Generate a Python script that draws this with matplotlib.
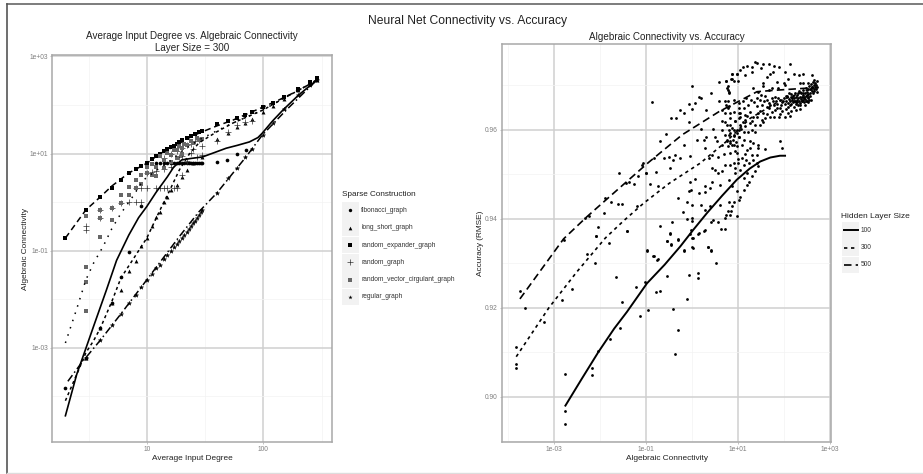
import numpy as np
import matplotlib
matplotlib.use('Agg')
import matplotlib.pyplot as plt
from matplotlib.patches import Rectangle

plt.rcParams['font.family'] = ['Liberation Sans', 'DejaVu Sans']

# left panel: smoothed curves, degree and log10(connectivity)
solid_deg = [2, 2.5, 3, 3.5, 4.5, 5.5, 7, 8.5, 10, 12, 15, 17, 20, 24, 30, 38, 48, 60, 76, 90, 98, 120, 148, 200, 290]
solid_conn = [-4.4, -3.55, -3.01, -2.55, -1.81, -1.2, -0.68, -0.32, -0.09, 0.2, 0.52, 0.72, 0.87, 0.9, 0.93, 1.02, 1.11, 1.17, 1.24, 1.33, 1.42, 1.67, 1.9, 2.2, 2.52]
expander_deg = [2, 2.5, 3, 4, 5, 7, 10, 13, 17, 22, 28, 40, 55, 75, 100, 135, 178, 230, 290]
expander_conn = [-0.74, -0.42, -0.16, 0.11, 0.33, 0.6, 0.8, 1.0, 1.14, 1.3, 1.42, 1.57, 1.69, 1.83, 1.96, 2.1, 2.24, 2.38, 2.52]
circulant_deg = [2, 2.5, 3, 3.5, 4.2, 5, 6, 7.5, 9.3, 12, 15, 20, 28, 40, 55, 75, 100, 150, 200, 290]
circulant_conn = [-2.9, -2.2, -1.6, -1.25, -0.92, -0.55, -0.23, 0.1, 0.45, 0.65, 0.8, 1.05, 1.28, 1.47, 1.63, 1.77, 1.9, 2.14, 2.3, 2.52]
longshort_deg = [2, 2.5, 3, 3.5, 4, 5, 6, 8, 10, 13, 16, 19, 23, 28, 40, 55, 75, 100, 150, 200, 290]
longshort_conn = [-4.09, -3.55, -3.1, -2.85, -2.59, -2.05, -1.56, -1.1, -0.74, -0.16, 0.28, 0.66, 0.98, 1.22, 1.45, 1.63, 1.77, 1.9, 2.14, 2.3, 2.52]
regular_deg = [2.1, 2.75, 4, 6, 10, 19, 28, 40, 71, 98, 158, 290]
regular_conn = [-3.69, -3.31, -2.84, -2.3, -1.6, -0.71, -0.2, 0.19, 0.93, 1.38, 1.9, 2.52]

# left panel: markers
fib_deg = [2, 3, 4, 5, 6, 7, 9, 12, 13, 14, 15, 16, 17, 18, 19, 20, 21, 22, 23, 24, 25, 26, 27, 28, 29, 30, 40, 49, 60, 71]
fib_conn = [-3.82, -3.2, -2.6, -2.08, -1.55, -1.03, -0.08, 0.8, 0.8, 0.8, 0.8, 0.8, 0.8, 0.8, 0.8, 0.8, 0.8, 0.8, 0.8, 0.8, 0.8, 0.8, 0.8, 0.8, 0.8, 0.8, 0.83, 0.87, 0.99, 1.07]
ls_deg = [3, 4, 5, 6, 7, 8, 9, 10, 11, 12, 13, 14, 15, 16, 18, 20, 22, 25, 30, 40, 50, 60, 70, 80, 100, 120, 150, 200, 250, 290]
ls_conn = [-3.2, -2.59, -2.08, -1.81, -1.42, -1.21, -0.9, -0.74, -0.5, -0.3, -0.2, 0.0, 0.11, 0.25, 0.35, 0.52, 0.66, 0.8, 0.93, 1.3, 1.42, 1.55, 1.63, 1.72, 1.86, 1.98, 2.12, 2.3, 2.45, 2.52]
exp_deg = [2, 3, 4, 5, 6, 7, 8, 9, 10, 11, 12, 13, 14, 15, 16, 17, 18, 19, 20, 22, 24, 26, 28, 30, 40, 50, 60, 70, 80, 100, 120, 150, 200, 250, 290]
exp_conn = [-0.74, -0.16, 0.11, 0.29, 0.45, 0.6, 0.68, 0.74, 0.8, 0.88, 0.95, 1.0, 1.05, 1.09, 1.13, 1.16, 1.2, 1.24, 1.27, 1.33, 1.37, 1.4, 1.44, 1.47, 1.6, 1.67, 1.74, 1.8, 1.86, 1.96, 2.05, 2.17, 2.33, 2.47, 2.55]
rnd_deg = [3, 3, 4, 4, 5, 6, 7, 8, 8, 9, 9, 10, 10, 11, 12, 12, 13, 14, 14, 15, 16, 17, 18, 19, 20, 20, 22, 24, 25, 27, 30, 30, 40, 50, 60, 70, 80, 14, 16, 18, 20, 22, 24, 26, 28]
rnd_conn = [-0.5, -0.58, -0.16, -0.33, -0.12, -0.02, 0.0, 0.0, 0.29, 0.0, 0.29, 0.29, 0.6, 0.62, 0.29, 0.65, 0.29, 0.29, 0.68, 0.29, 0.72, 0.29, 0.3, 0.92, 0.95, 0.55, 0.85, 1.02, 1.1, 0.92, 0.98, 1.15, 1.25, 1.45, 1.58, 1.66, 1.68, 0.9, 1.0, 1.05, 1.12, 1.17, 1.2, 1.25, 1.28]
circ_deg = [3, 3, 3, 3, 4, 4, 4, 5, 5, 6, 6, 7, 7, 8, 8, 9, 9, 10, 10, 11, 11, 12, 12, 14, 14, 16, 16, 18, 18, 20, 20, 22, 25, 28, 30, 13, 15, 17, 19, 21, 24, 27]
circ_conn = [-1.33, -1.64, -2.25, -0.28, -0.71, -0.16, -0.33, -0.37, -0.12, 0.14, -0.02, 0.14, 0.32, 0.45, 0.29, 0.55, 0.38, 0.73, 0.6, 0.78, 0.55, 0.72, 0.54, 0.87, 0.7, 0.98, 0.82, 0.9, 1.08, 1.0, 1.12, 1.18, 1.22, 1.28, 1.3, 0.95, 1.02, 1.08, 1.15, 1.2, 1.25, 1.32]
reg_deg = [3, 4, 5, 6, 7, 8, 9, 10, 11, 12, 13, 14, 15, 16, 17, 18, 19, 20, 21, 22, 23, 24, 25, 26, 27, 28, 29, 30, 40, 50, 60, 70, 80, 100, 120, 150, 200, 250, 290]
reg_conn = [-3.2, -2.84, -2.53, -2.3, -2.08, -1.91, -1.75, -1.6, -1.48, -1.36, -1.3, -1.17, -1.09, -1.0, -0.93, -0.86, -0.8, -0.74, -0.68, -0.62, -0.56, -0.5, -0.44, -0.38, -0.32, -0.26, -0.21, -0.16, 0.19, 0.49, 0.7, 0.93, 1.09, 1.38, 1.62, 1.92, 2.2, 2.42, 2.52]

# right panel: smoothed curves, log10(connectivity) and accuracy
line100_x = [-2.76, -2.4, -2.04, -1.7, -1.42, -0.985, -0.6, -0.26, 0.02, 0.32, 0.65, 0.97, 1.25, 1.48, 1.7, 1.91, 2.02]
line100_y = [0.898, 0.9041, 0.9101, 0.9153, 0.9191, 0.9255, 0.9297, 0.9338, 0.9375, 0.9413, 0.9452, 0.9488, 0.9513, 0.9529, 0.9538, 0.9542, 0.9542]
line300_x = [-3.83, -3.12, -2.51, -1.89, -1.5, -1.06, -0.5, 0.17, 0.72, 1.26, 1.9, 2.65]
line300_y = [0.909, 0.92, 0.9281, 0.9357, 0.9395, 0.9435, 0.948, 0.9525, 0.9572, 0.9626, 0.9665, 0.9695]
line500_x = [-3.75, -2.8, -2.29, -1.6, -0.95, -0.22, 0.58, 1.41, 1.77, 2.65]
line500_y = [0.922, 0.9355, 0.9405, 0.9468, 0.9527, 0.9589, 0.9641, 0.9686, 0.9689, 0.9695]

# right panel: individual runs
lower_runs = [(-3.83, .9111), (-3.83, .9073), (-3.84, .9064), (-3.75, .9238), (-3.63, .92), (-3.23, .9169),
    (-2.83, .9218), (-2.8, .9352), (-2.62, .9243), (-2.76, .9051), (-2.77, .8968), (-2.77, .8939), (-2.18, .9065),
    (-2.18, .9048), (-2.04, .9103), (-1.78, .913), (-1.57, .9155), (-1.53, .9214), (-1.65, .927), (-2.11, .93),
    (-2.29, .932), (-1.82, .9346), (-2.09, .9361), (-1.43, .9372), (-1.23, .9247), (-1.13, .9181), (-1.02, .9258),
    (-.96, .9196), (-.99, .9328), (-.85, .9317), (-.77, .9307), (-.79, .9236), (-.71, .9237), (-.54, .9271),
    (-.55, .935), (-.46, .9342), (-.48, .9367), (-.32, .9352), (-.41, .9198), (-.32, .915), (-.38, .9095),
    (-.19, .9328), (-.12, .922), (-.07, .9274), (.12, .9278), (.12, .9267), (.02, .9335), (.02, .9358), (.13, .9367),
    (.26, .9372), (.35, .9336), (.41, .9328), (.51, .9301)]
mid_runs = [(-1.6, .9503), (-2.33, .9402), (-2.24, .9407), (-2.04, .9381), (-2.09, .9362), (-1.91, .9414),
    (-1.89, .9446), (-1.76, .9437), (-1.62, .9434), (-1.52, .9434), (-1.44, .948), (-1.38, .9484), (-1.27, .9478),
    (-1.17, .9497), (-1.08, .9525), (-1.0, .9503), (-1.2, .9429), (-1.43, .9372),
    (-.88, .9662), (-.01, .9699), (.41, .9683), (.58, .9707), (.73, .971), (.86, .9726), (.97, .9726), (.84, .9714),
    (.9, .9711), (.77, .9698), (.77, .969), (.79, .9684), (.14, .9674), (.2, .9671), (-.08, .9658), (.07, .966),
    (-.26, .9645), (-.17, .9638), (-.01, .9647), (.31, .9644), (.58, .9666), (-.46, .9626), (-.35, .9627),
    (-.08, .9617), (.2, .9602), (.45, .9603), (-.57, .9591), (-.7, .9575), (-.19, .9565), (.1, .9578), (.25, .9578),
    (.3, .9583), (.49, .9584), (.28, .9559), (.65, .962), (.77, .9664), (.74, .9656), (.77, .9649), (.72, .9638),
    (.83, .9638), (.9, .9641), (.83, .9626), (.72, .9617), (.94, .9619), (.83, .9611), (.81, .96), (.9, .96),
    (.79, .9589), (.9, .9589), (.75, .9578), (.83, .957), (.9, .9566), (.77, .9563), (1.01, .966), (1.01, .9638),
    (1.01, .9626), (1.01, .96), (1.01, .9584)]
upper_runs = [(1.36, .9752), (1.42, .975), (1.55, .9748), (1.68, .9749), (1.2, .9744), (1.1, .9741), (1.03, .9734),
    (.86, .9726), (.97, .9726), (1.14, .9724), (1.3, .9731), (1.31, .9741), (1.49, .9739), (1.77, .9743), (1.89, .9741),
    (2.13, .9749), (1.75, .9731), (1.7, .9726), (1.62, .9718), (2.02, .9731), (2.09, .9714), (2.22, .9726), (2.33, .9724),
    (2.41, .9726), (2.6, .9724), (1.84, .9707), (1.99, .9705), (1.55, .9705), (1.55, .9698), (1.73, .9694), (1.86, .9694),
    (2.02, .9701), (2.35, .9705), (2.42, .9705), (2.51, .9705), (2.66, .9713), (2.71, .9709), (.73, .9711), (.86, .9714),
    (.99, .9711), (.75, .9694), (.79, .9686), (1.33, .9694), (1.44, .9686), (1.66, .969),
    (.72, .9664), (.79, .9654), (.65, .9645), (.9, .9668), (1.01, .9649), (1.12, .9649), (1.22, .9656), (1.04, .9638),
    (1.15, .9634), (1.26, .9641), (1.41, .9653), (1.51, .9656), (1.33, .963), (1.44, .9638), (1.55, .9638), (1.66, .9649),
    (1.73, .9641), (1.84, .9649), (1.59, .9626), (1.7, .963), (1.88, .963), (2.02, .963), (2.13, .9632), (.94, .9619),
    (1.04, .9611), (1.15, .9623), (1.26, .9615), (1.37, .9611), (1.51, .9623), (.75, .9611), (.86, .9604), (.97, .96),
    (1.12, .9596), (1.3, .96), (1.37, .9596), (1.48, .9611), (.65, .96), (.72, .9589), (.83, .9593), (.91, .9587),
    (1.01, .9584), (.75, .9574), (.86, .9566), (1.12, .9578), (1.26, .9574), (1.33, .957), (1.9, .9576), (1.95, .9559),
    (1.44, .9559), (1.59, .9557)]
low_band_runs = [(-1.0, .9503), (-.78, .9505), (-.91, .9478), (-.75, .9473), (-1.09, .9522), (-.84, .9537), (-.62, .9537),
    (-.51, .9539), (-.37, .9544), (-.26, .9537), (-.41, .9533), (-.48, .9514), (-.04, .9542), (.36, .9537), (.43, .9544),
    (.57, .9539), (.83, .9548), (.97, .9548), (.72, .9522), (.65, .9507), (.43, .9514), (.57, .9503), (.5, .9511),
    (.83, .9522), (.9, .9526), (.99, .9526), (1.12, .9522), (1.23, .9526), (1.33, .9533), (1.41, .9526), (1.04, .9511),
    (1.19, .9503), (1.3, .9496), (1.37, .9507), (1.44, .9518), (1.12, .9492), (1.23, .9484), (.94, .9503), (.79, .9488),
    (.86, .9473), (.98, .9462), (1.04, .945), (1.12, .9466), (1.19, .9477), (1.01, .9443), (.9, .9439), (.79, .9439),
    (.61, .9477), (.43, .9484), (.28, .9473), (.39, .9469), (.28, .946), (.14, .9458), (.07, .949), (-.04, .9484),
    (-.03, .9466), (-.06, .9462), (-.32, .9448), (-.12, .9438), (-.01, .9432), (.2, .9432), (.28, .9421), (.39, .9428),
    (.61, .9432), (.77, .9417), (.84, .9417), (.83, .9409), (.74, .9409), (.72, .9402), (.97, .9407), (.86, .9428),
    (-.21, .9415), (-.12, .94), (-.01, .9402), (-.01, .9396), (-.43, .9393), (-.7, .9385), (-.48, .9368), (-.02, .9376),
    (.14, .9368), (.27, .9374), (.41, .9394), (.46, .9397), (.55, .9394), (.63, .9377), (.71, .9377), (-.04, .9365),
    (-.01, .9357), (-.32, .9355), (-.55, .9351), (-.46, .9343), (-.01, .9336), (-.19, .9329), (.34, .9337), (.41, .9329),
    (-.99, .9331), (-.84, .9317), (-.75, .931), (1.08, .9537), (1.17, .9533), (1.3, .9544), (1.41, .9544), (.97, .9563),
    (.83, .9574), (.65, .9567), (.54, .9574), (1.44, .9567), (1.26, .9559)]
core_runs = [(1.92, .9668), (1.96, .9662), (2.0, .9672), (2.02, .9658), (2.05, .9666), (2.07, .9676), (2.09, .966), (2.1, .9669),
    (2.12, .9655), (2.13, .9664), (2.14, .9674), (2.16, .9681), (2.16, .9659), (2.18, .9668), (2.19, .9662), (2.2, .9677),
    (2.21, .9652), (2.22, .9671), (2.23, .9665), (2.24, .9684), (2.25, .9658), (2.26, .9674), (2.27, .9668), (2.28, .9662),
    (2.29, .9679), (2.3, .9655), (2.31, .9671), (2.32, .9687), (2.33, .9665), (2.34, .9675), (2.35, .966), (2.36, .9669),
    (2.37, .9682), (2.38, .9673), (2.39, .9664), (2.4, .9678), (2.41, .9668), (2.42, .969), (2.43, .9674), (2.44, .9662),
    (2.45, .9683), (2.46, .967), (2.47, .9677), (2.48, .9695), (2.49, .9665), (2.5, .9686), (2.51, .9673), (2.52, .968),
    (2.53, .9691), (2.54, .9668), (2.55, .9699), (2.56, .9684), (2.57, .9676), (2.58, .9693), (2.59, .9704), (2.6, .9687),
    (2.61, .9697), (2.62, .9682), (2.63, .9708), (2.64, .9692), (2.65, .9701), (2.66, .9687), (2.67, .9696), (2.68, .9705),
    (2.69, .9692), (2.7, .97), (2.71, .9686), (2.72, .9696), (1.75, .9665), (1.8, .9673), (1.85, .9658), (1.7, .9655),
    (1.62, .9668), (1.58, .9676), (1.9, .965), (1.8, .9645), (1.95, .9643), (2.05, .9648), (2.15, .9643), (2.25, .9645),
    (2.35, .9648), (2.45, .9655), (2.52, .9662), (2.58, .9668)]
extra_runs = [(1.1, .9665), (1.18, .9672), (1.28, .9668), (1.35, .9662), (1.4, .9671), (1.47, .9668), (1.5, .9678), (1.56, .9664),
    (1.62, .9652), (1.68, .9661), (1.74, .9672), (1.78, .9656), (1.82, .9664), (1.87, .9672), (1.93, .9656), (1.98, .9666),
    (2.03, .9677), (2.08, .9652), (2.11, .9683), (2.17, .9672), (2.21, .9666), (2.26, .9663), (2.3, .9684), (2.34, .9657),
    (2.38, .9666), (2.41, .9683), (2.44, .9672), (2.47, .9664), (2.5, .9679), (2.53, .9672), (2.56, .9691), (2.6, .9696),
    (1.05, .9628), (1.1, .9618), (1.2, .9632), (1.3, .9621), (1.42, .9628), (1.47, .9642), (1.55, .9618), (1.62, .9636),
    (1.78, .9628), (1.92, .9636), (2.08, .9638), (1.15, .9608), (1.22, .9596), (.98, .9592), (1.06, .9603), (.88, .9578),
    (.95, .9572), (.93, .9553), (1.08, .9565), (1.2, .9555), (.7, .9545), (1.0, .9535), (1.15, .9545), (.92, .9515)]

deg_ticks = [10, 100]
conn_ticks = [1e3, 1e1, 1e-1, 1e-3]
acc_ticks = [0.90, 0.92, 0.94, 0.96]
graph_names = ['fibonacci_graph', 'long_short_graph', 'random_expander_graph',
               'random_graph', 'random_vector_cirgulant_graph', 'regular_graph']
layer_sizes = ['100', '300', '500']

W, H = 923, 474
BLACK = '#000000'
TICK = '#7f7f7f'


def panel(left, top, right, bottom):
    ax = fig.add_axes([left / W, 1 - bottom / H, (right - left) / W, (bottom - top) / H])
    ax.grid(True, which='major', color='#cfcfcf', linewidth=1.1)
    ax.grid(True, which='minor', color='#f3f3f3', linewidth=0.5)
    ax.set_axisbelow(True)
    for s in ax.spines.values():
        s.set_color('#a8a8a8')
        s.set_linewidth(1.1)
    ax.tick_params(which='major', length=1.5, width=0.5, color='#aaaaaa', labelsize=4.8, labelcolor=TICK, pad=1.5)
    ax.tick_params(which='minor', length=0)
    return ax


def log_label(v, pos=None):
    return f'{v:.0e}'


fig = plt.figure(figsize=(W / 100, H / 100), dpi=100, facecolor='white')

# left panel
ax1 = panel(52, 55, 332, 442)
ax1.set_xscale('log')
ax1.set_yscale('log')
ax1.plot(solid_deg, 10.0 ** np.array(solid_conn), color=BLACK, lw=1.2, ls='-')
ax1.plot(expander_deg, 10.0 ** np.array(expander_conn), color=BLACK, lw=1.1, ls=(0, (4, 2.5)))
ax1.plot(circulant_deg, 10.0 ** np.array(circulant_conn), color=BLACK, lw=1.1, ls=(0, (1, 4)))
ax1.plot(longshort_deg, 10.0 ** np.array(longshort_conn), color=BLACK, lw=1.1, ls=(0, (2, 2)))
ax1.plot(regular_deg, 10.0 ** np.array(regular_conn), color=BLACK, lw=1.1, ls=(0, (5, 2, 1, 2)))
ax1.scatter(fib_deg, 10.0 ** np.array(fib_conn), s=7, marker='o', color=BLACK, lw=0)
ax1.scatter(ls_deg, 10.0 ** np.array(ls_conn), s=8, marker='^', color=BLACK, lw=0)
ax1.scatter(exp_deg, 10.0 ** np.array(exp_conn), s=5, marker='s', color=BLACK, lw=0)
ax1.scatter(rnd_deg, 10.0 ** np.array(rnd_conn), s=14, marker='+', color='#333333', lw=0.5)
ax1.scatter(circ_deg, 10.0 ** np.array(circ_conn), s=8, marker='s', color='#666666', lw=0)
ax1.scatter(reg_deg, 10.0 ** np.array(reg_conn), s=10, marker='*', color=BLACK, lw=0.3)
ax1.set_xlim(10 ** 0.186, 10 ** 2.59)
ax1.set_ylim(10 ** -4.94, 10 ** 3.03)
ax1.set_xticks(deg_ticks)
ax1.set_xticklabels([str(v) for v in deg_ticks])
ax1.set_xticks([10 ** 0.5, 10 ** 1.5, 10 ** 2.5], minor=True)
ax1.set_xticklabels([], minor=True)
ax1.set_yticks(conn_ticks)
ax1.set_yticklabels([log_label(v) for v in conn_ticks])
ax1.set_yticks([1e2, 1e0, 1e-2, 1e-4], minor=True)
ax1.set_yticklabels([], minor=True)
ax1.set_xlabel('Average Input Degree', fontsize=5.95, color='#222222', labelpad=1.5)
ax1.set_ylabel('Algebraic Connectivity', fontsize=5.95, color='#222222', labelpad=0)
ax1.set_title('Average Input Degree vs. Algebraic Connectivity\nLayer Size = 300', fontsize=7.1,
              color='#222222', pad=3, linespacing=1.2)

# right panel
ax2 = panel(502, 44, 831, 442)
ax2.set_xscale('log')
for runs in [lower_runs, mid_runs, upper_runs, low_band_runs, core_runs, extra_runs]:
    xs, ys = zip(*runs)
    ax2.scatter(10.0 ** np.array(xs), ys, s=4, color=BLACK, lw=0)
ax2.plot(10.0 ** np.array(line100_x), line100_y, color=BLACK, lw=1.4, ls='-')
ax2.plot(10.0 ** np.array(line300_x), line300_y, color=BLACK, lw=1.2, ls=(0, (2, 2.2)))
ax2.plot(10.0 ** np.array(line500_x), line500_y, color=BLACK, lw=1.2, ls=(0, (4.5, 2.5)))
ax2.set_xlim(10 ** -4.14, 10 ** 3.02)
ax2.set_ylim(0.92 - (442 - 307.7) / 4450, 0.96 + (130 - 44) / 4450)
ax2.set_xticks([1e-3, 1e-1, 1e1, 1e3])
ax2.set_xticklabels([log_label(v) for v in [1e-3, 1e-1, 1e1, 1e3]])
ax2.set_xticks([1e-4, 1e-2, 1e0, 1e2], minor=True)
ax2.set_xticklabels([], minor=True)
ax2.set_yticks(acc_ticks)
ax2.set_yticklabels([f'{v:.2f}' for v in acc_ticks])
ax2.set_yticks([0.89, 0.91, 0.93, 0.95, 0.97], minor=True)
ax2.set_yticklabels([], minor=True)
ax2.set_xlabel('Algebraic Connectivity', fontsize=5.95, color='#222222', labelpad=1.5)
ax2.set_ylabel('Accuracy (RMSE)', fontsize=5.95, color='#222222', labelpad=1)
ax2.set_title('Algebraic Connectivity vs. Accuracy', fontsize=7.1, color='#222222', pad=3)

# overlay in pixel coordinates for frame, suptitle and the two legends
ov = fig.add_axes([0, 0, 1, 1], facecolor='none')
ov.set_xlim(0, W)
ov.set_ylim(H, 0)
ov.axis('off')
ov.plot([7, 923], [4, 4], color='#666666', lw=1.2)
ov.plot([7, 7], [4, 473], color='#555555', lw=1.2)
ov.plot([7, 923], [473, 473], color='#dddddd', lw=1.0)
ov.text(468, 20.5, 'Neural Net Connectivity vs. Accuracy', fontsize=8.7, color='#222222', ha='center', va='center')

ov.text(342, 195, 'Sparse Construction', fontsize=5.9, color='#222222', va='center')
leg_markers = [('o', 6, BLACK), ('^', 7, BLACK), ('s', 6, BLACK), ('+', 14, '#333333'), ('s', 8, '#666666'), ('*', 10, BLACK)]
for i, (name, (mk, size, col)) in enumerate(zip(graph_names, leg_markers)):
    y = 202 + i * 17.3
    ov.add_patch(Rectangle((342, y), 16.8, 16.8, facecolor='#f2f2f2', edgecolor='none'))
    ov.scatter([350.4], [y + 8.4], s=size, marker=mk, color=col, lw=0.5 if mk == '+' else 0)
    ov.text(361, y + 8.4, name, fontsize=4.75, color='#333333', va='center')

ov.text(841, 216, 'Hidden Layer Size', fontsize=6.0, color='#222222', va='center')
leg_styles = [('-', 1.4), ((0, (2, 2.2)), 1.2), ((0, (4.5, 2.5)), 1.2)]
for i, (name, (ls, lw)) in enumerate(zip(layer_sizes, leg_styles)):
    y = 222 + i * 17.3
    ov.add_patch(Rectangle((842, y), 16.8, 16.8, facecolor='#f2f2f2', edgecolor='none'))
    ov.plot([843.5, 857.5], [y + 8.4, y + 8.4], color=BLACK, lw=lw, ls=ls)
    ov.text(861, y + 8.4, name, fontsize=4.75, color='#333333', va='center')
ov.set_xlim(0, W)
ov.set_ylim(H, 0)

fig.savefig('out.png', dpi=100)
